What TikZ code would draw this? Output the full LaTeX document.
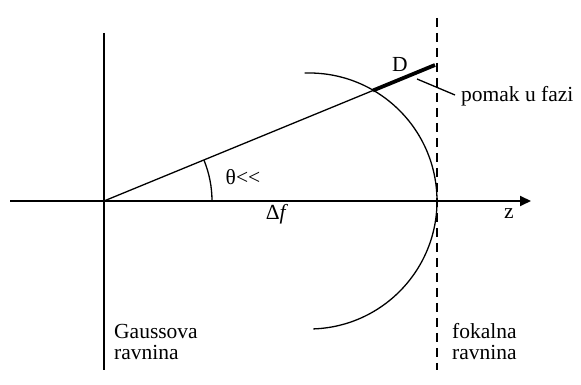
\documentclass[tikz,border=0pt]{standalone}
\usepackage{fontspec}
\setmainfont{Liberation Serif}
\usetikzlibrary{arrows.meta,calc}
\begin{document}
\begin{tikzpicture}[x=1pt,y=1pt,
  lbl/.style={inner sep=0pt, font=\fontsize{21.5}{21}\selectfont},
  thin line/.style={line width=1.3pt},
  axis line/.style={line width=2pt}]
\useasboundingbox (0,0) rectangle (581,385);
\coordinate (O) at (104,184);
\coordinate (C) at (309,184);
\coordinate (gtop) at (104,352);
\coordinate (gbot) at (104,15);
\coordinate (ax0) at (10,184);
\coordinate (ax1) at (531,184);
\coordinate (ftop) at (437,367);
\coordinate (fbot) at (437,15);
\coordinate (rend) at (435,320);
\coordinate (rmid) at (373,294.5);
\coordinate (arcstart) at ($(C)+(92:128)$);
% Gaussian plane
\draw[axis line] (gtop) -- (gbot);
% axis
\draw[axis line, -{Triangle[length=11pt,width=10pt]}] (ax0) -- (ax1);
% focal plane
\draw[line width=2.5pt, dash pattern=on 9pt off 6pt] (ftop) -- (fbot);
% ray
\draw[thin line] (O) -- (rmid);
\draw[line width=3.8pt] (rmid) -- (rend);
% wavefront arc
\draw[thin line] (arcstart) arc[start angle=92, end angle=-88, radius=128];
% angle arc
\draw[thin line] (212,184) arc[start angle=0, end angle=22.3, radius=108];
% pointer
\coordinate (p0) at (417,306);
\coordinate (p1) at (455,290);
\draw[thin line] (p0) -- (p1);
\node[lbl, anchor=west] (pomak) at (461,289) {pomak u fazi};
\node[lbl] (D) at (400,321) {D};
\node[lbl] (theta) at (243,208) {θ<{}<};
\node[lbl] (df) at (277,171) {Δ\textit{f}};
\node[lbl] (z) at (509,171) {z};
\node[lbl, anchor=west, align=left] (gauss) at (114,43) {Gaussova\\ravnina};
\node[lbl, anchor=west, align=left] (fok) at (452,43) {fokalna\\ravnina};
\end{tikzpicture}
\end{document}
